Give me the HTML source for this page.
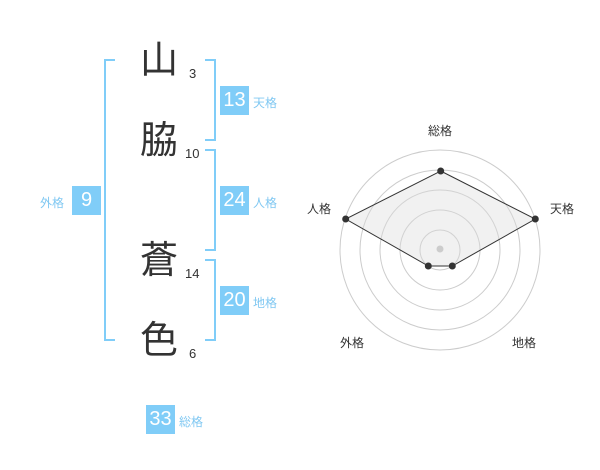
<!DOCTYPE html>
<html><head><meta charset="utf-8"><style>
body{margin:0;width:600px;height:470px;background:#fff;position:relative;overflow:hidden;font-family:"Liberation Sans","Noto Sans CJK JP",sans-serif}
.a{position:absolute}
.k{position:absolute;font-size:38px;color:#333;line-height:40px;width:40px;text-align:center}
.n{position:absolute;font-size:13px;color:#333;line-height:14px}
.b{position:absolute;width:29px;height:29px;background:#80cdf8;color:#fff;font-size:20px;line-height:29px;text-align:center}
.l{position:absolute;font-size:12px;color:#80c8f2;line-height:14px}
.br{position:absolute;border:2px solid #80cdf8}
</style></head><body>
<div class="br" style="left:104px;top:59px;width:9px;height:278px;border-right:none"></div>
<div class="br" style="left:205px;top:59px;width:9px;height:78px;border-left:none"></div>
<div class="br" style="left:205px;top:149px;width:9px;height:98px;border-left:none"></div>
<div class="br" style="left:205px;top:259px;width:9px;height:78px;border-left:none"></div>
<div class="k" style="left:139px;top:41px">山</div>
<div class="k" style="left:139px;top:121px">脇</div>
<div class="k" style="left:139px;top:241px">蒼</div>
<div class="k" style="left:139px;top:321px">色</div>
<div class="n" style="left:189px;top:67px">3</div>
<div class="n" style="left:185px;top:147px">10</div>
<div class="n" style="left:185px;top:267px">14</div>
<div class="n" style="left:189px;top:347px">6</div>
<div class="b" style="left:220px;top:86px">13</div><div class="l" style="left:253px;top:96px">天格</div>
<div class="b" style="left:220px;top:186px">24</div><div class="l" style="left:253px;top:196px">人格</div>
<div class="b" style="left:220px;top:286px">20</div><div class="l" style="left:253px;top:296px">地格</div>
<div class="b" style="left:72px;top:186px">9</div><div class="l" style="left:40px;top:196px">外格</div>
<div class="b" style="left:146px;top:405px">33</div><div class="l" style="left:179px;top:415px">総格</div>
<svg class="a" style="left:0;top:0" width="600" height="470">
<g fill="none" stroke="#ccc" stroke-width="1">
<circle cx="440" cy="250" r="20"/><circle cx="440" cy="250" r="40"/><circle cx="440" cy="250" r="60"/><circle cx="440" cy="250" r="80"/><circle cx="440" cy="250" r="100"/>
</g>
<polygon points="440.7,171 535.3,219 452.3,266 428.3,266 345.7,219" fill="rgba(220,220,220,0.4)" stroke="#333" stroke-width="1"/>
<circle cx="440" cy="249" r="3.5" fill="#ccc"/>
<g fill="#333"><circle cx="440.7" cy="171" r="3.5"/><circle cx="535.3" cy="219" r="3.5"/><circle cx="452.3" cy="266" r="3.5"/><circle cx="428.3" cy="266" r="3.5"/><circle cx="345.7" cy="219" r="3.5"/></g>
<g font-size="12" fill="#333" font-family="Liberation Sans,Noto Sans CJK JP,sans-serif" text-anchor="middle">
<text x="440" y="135">総格</text><text x="562" y="213">天格</text><text x="319" y="213">人格</text><text x="352" y="347">外格</text><text x="524" y="347">地格</text>
</g>
</svg>
</body></html>
